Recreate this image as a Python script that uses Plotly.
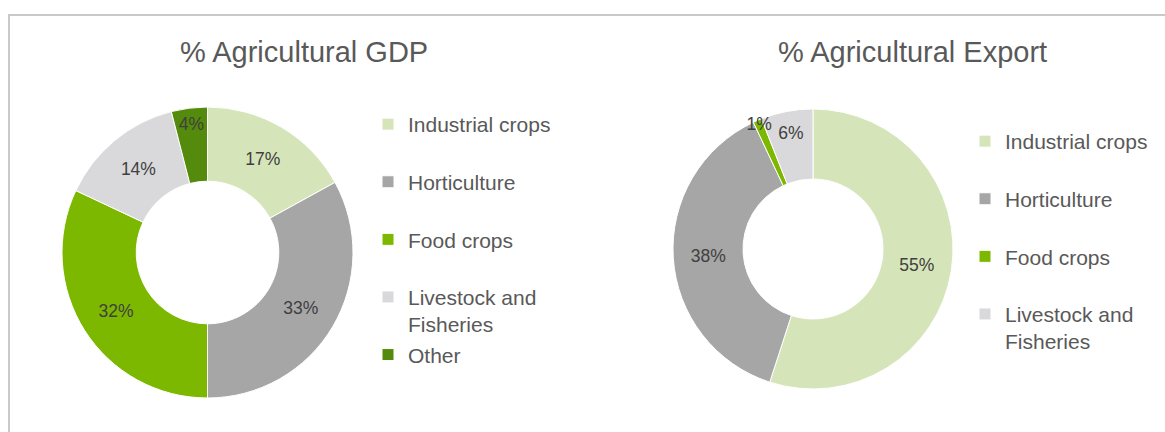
import plotly.graph_objects as go

# ---------------- data ----------------
gdp_categories = ["Industrial crops", "Horticulture", "Food crops",
                  "Livestock and Fisheries", "Other"]
gdp_values = [17, 33, 32, 14, 4]

export_categories = ["Industrial crops", "Horticulture", "Food crops",
                     "Livestock and Fisheries"]
export_values = [55, 38, 1, 6]

title_gdp = "% Agricultural GDP"
title_export = "% Agricultural Export"

# ---------------- styles ----------------
color_map = {
    "Industrial crops": "#d6e5b9",
    "Horticulture": "#a6a6a6",
    "Food crops": "#7cb800",
    "Livestock and Fisheries": "#d9d9db",
    "Other": "#548b0c",
}
FONT = "Liberation Sans, Arial, sans-serif"
W, H = 1165, 432


def legend_label(name):
    # two-line legend entries (Excel-like spacing)
    if name == "Livestock and Fisheries":
        return "Livestock and<br>Fisheries"
    return name + "<br>&nbsp;"


def px_dom_x(a, b):
    return [a / W, b / W]


def px_dom_y(top, bottom):
    return [1 - bottom / H, 1 - top / H]


def add_donut(fig, cats, vals, hole, dom, legend_id, group):
    common = dict(
        labels=[legend_label(c) for c in cats],
        values=vals,
        hole=hole,
        sort=False,
        direction="clockwise",
        rotation=0,
        domain=dom,
    )
    # coloured ring + legend entries
    fig.add_trace(go.Pie(
        **common,
        marker=dict(colors=[color_map[c] for c in cats],
                    line=dict(color="white", width=1)),
        textinfo="none",
        legend=legend_id,
        legendgroup=group,
        hoverinfo="label+value",
    ))
    # transparent overlay carrying the data labels (so none get covered)
    fig.add_trace(go.Pie(
        **common,
        marker=dict(colors=["rgba(0,0,0,0)"] * len(cats),
                    line=dict(color="rgba(0,0,0,0)", width=0)),
        texttemplate="%{value}%",
        textposition="inside",
        insidetextorientation="horizontal",
        textfont=dict(family=FONT, size=17.5, color="#404040"),
        showlegend=False,
        hoverinfo="skip",
    ))


fig = go.Figure()
add_donut(fig, gdp_categories, gdp_values, 0.49,
          dict(x=px_dom_x(62, 353), y=px_dom_y(107, 398)), "legend", "gdp")
add_donut(fig, export_categories, export_values, 0.5,
          dict(x=px_dom_x(673, 953), y=px_dom_y(109, 389)), "legend2", "export")

legend_common = dict(
    font=dict(family=FONT, size=21, color="#595959"),
    bgcolor="rgba(0,0,0,0)",
    xanchor="left",
    yanchor="top",
    valign="top",
    orientation="v",
)

fig.update_layout(
    width=W,
    height=H,
    margin=dict(l=0, r=0, t=0, b=0),
    paper_bgcolor="white",
    plot_bgcolor="white",
    showlegend=True,
    uniformtext=dict(minsize=17.5, mode="show"),
    legend=dict(x=368 / W, y=1 - 104 / H, **legend_common),
    legend2=dict(x=965 / W, y=1 - 121 / H, **legend_common),
    annotations=[
        dict(text=title_gdp, x=303.5 / W, y=1 - 52 / H, xref="paper", yref="paper",
             xanchor="center", yanchor="middle", showarrow=False,
             font=dict(family=FONT, size=29, color="#595959")),
        dict(text=title_export, x=912.5 / W, y=1 - 52 / H, xref="paper", yref="paper",
             xanchor="center", yanchor="middle", showarrow=False,
             font=dict(family=FONT, size=29, color="#595959")),
    ],
    shapes=[
        dict(type="rect", xref="paper", yref="paper",
             x0=9 / W, x1=1.2, y0=-0.2, y1=1 - 15 / H,
             line=dict(color="#c9c9c9", width=2), fillcolor="rgba(0,0,0,0)",
             layer="below"),
    ],
)

fig.write_html("out.html")
